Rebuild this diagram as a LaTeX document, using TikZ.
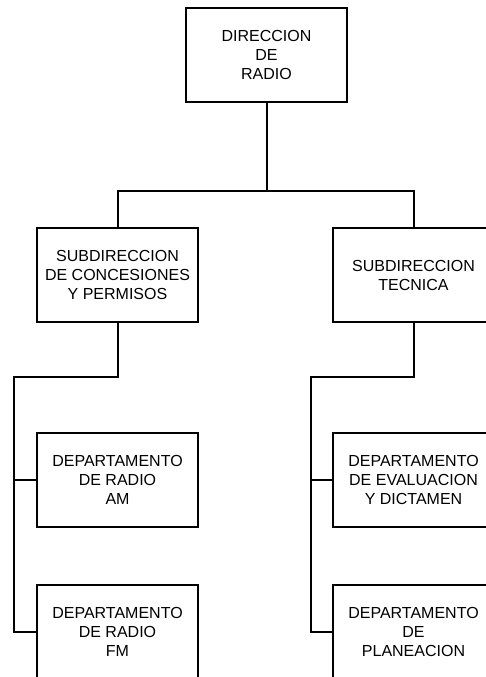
\documentclass[tikz,border=0pt]{standalone}
\usepackage{fontspec}
\setmainfont{Liberation Sans}
\usepackage{tikz}
\tikzset{
  caja/.style={
    draw, line width=2pt, minimum width=161pt, minimum height=94pt,
    inner sep=0pt, align=center, font=\fontsize{16}{19}\selectfont
  }}
\tikzset{
  linea/.style={draw, line width=2pt}}

\begin{document}
\begin{tikzpicture}[x=1pt,y=-1pt]
    \useasboundingbox (0,0) rectangle (485,677);
    \node[caja](DR) at (266.5,55) {DIRECCION\\DE\\RADIO};
\begin{scope}
        \node[caja](SC) at (117.5,275) {SUBDIRECCION\\DE CONCESIONES\\Y PERMISOS};
        \node[caja](ST) at (413.5,275) {SUBDIRECCION\\TECNICA};
        \node[caja](AM) at (117.5,479.5) {DEPARTAMENTO\\DE RADIO\\AM};
        \node[caja](FM) at (117.5,631.5) {DEPARTAMENTO\\DE RADIO\\FM};
        \node[caja](EV) at (413.5,479.5) {DEPARTAMENTO\\DE EVALUACION\\Y DICTAMEN};
        \node[caja](PL) at (413.5,631.5) {DEPARTAMENTO\\DE\\PLANEACION};
    \end{scope}
    \coordinate (J) at (266.5,191);
    \coordinate (L) at (14,377);
    \coordinate (R) at (311,377);
    \path[linea] (DR.south) -- (J);
    \path[linea] (SC.north) |- (J) -| (ST.north);
    \path[linea] (SC.south) |- (L) |- (FM.west);
    \path[linea] (AM.west) -- (AM.west -| L);
    \path[linea] (ST.south) |- (R) |- (PL.west);
    \path[linea] (EV.west) -- (EV.west -| R);
\end{tikzpicture}
\end{document}
